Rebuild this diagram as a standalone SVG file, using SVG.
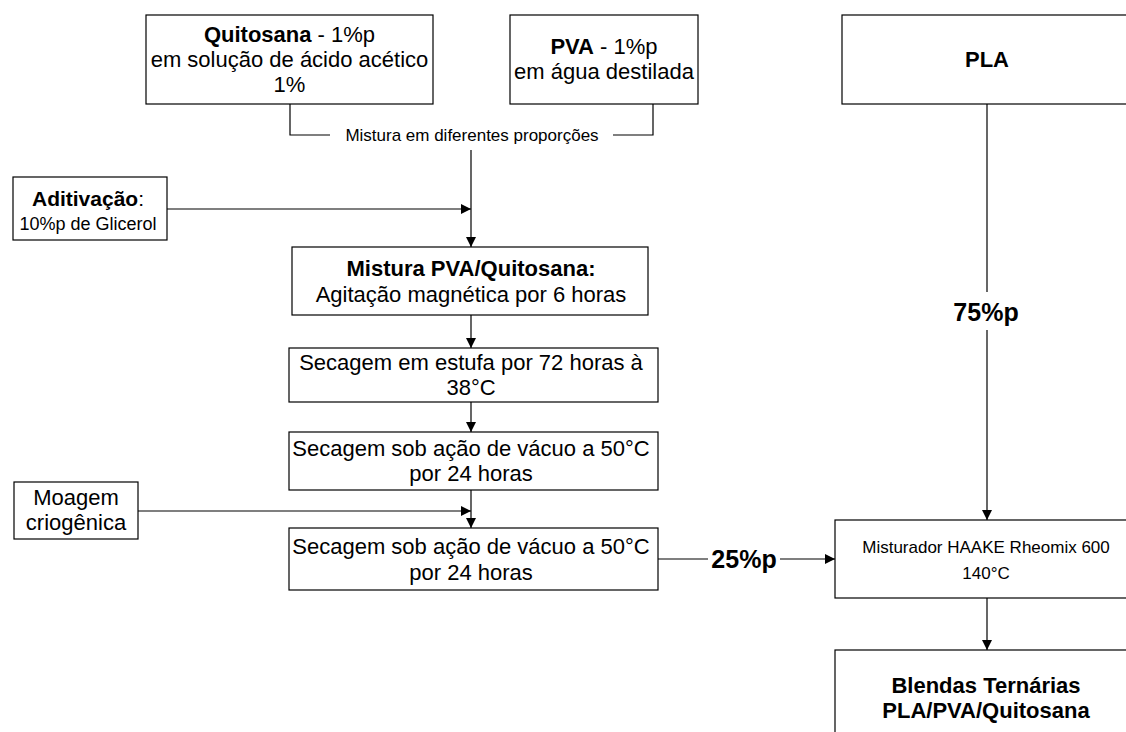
<svg xmlns="http://www.w3.org/2000/svg" width="1126" height="732" viewBox="0 0 1126 732">
<style>
.box{fill:#fff;stroke:#000;stroke-width:1.2}
.t{font-family:"Liberation Sans",Arial,sans-serif;font-size:22px;fill:#000;text-anchor:middle}
.s{font-size:17px}
.m{font-size:18px}
.b{font-weight:bold}
.big{font-size:25px;font-weight:bold}
.ln{fill:none;stroke:#000;stroke-width:1.2}
</style>
<defs>
<marker id="ah" viewBox="0 0 10 10" refX="10" refY="5" markerWidth="10" markerHeight="10" markerUnits="userSpaceOnUse" orient="auto">
<path d="M0,0 L10,5 L0,10 Z" fill="#000"/>
</marker>
</defs>
<rect width="1126" height="732" fill="#fff"/>
<g id="connectors">
<polyline class="ln" points="290,104 290,135 330,135"/>
<polyline class="ln" points="613,135 653,135 653,104"/>
<line class="ln" x1="471" y1="150" x2="471" y2="247" marker-end="url(#ah)"/>
<line class="ln" x1="166" y1="209" x2="471" y2="209" marker-end="url(#ah)"/>
<line class="ln" x1="471" y1="315" x2="471" y2="348" marker-end="url(#ah)"/>
<line class="ln" x1="471" y1="402" x2="471" y2="432" marker-end="url(#ah)"/>
<line class="ln" x1="471" y1="490" x2="471" y2="528" marker-end="url(#ah)"/>
<line class="ln" x1="138" y1="511" x2="471" y2="511" marker-end="url(#ah)"/>
<line class="ln" x1="658" y1="559" x2="708" y2="559"/>
<line class="ln" x1="780" y1="559" x2="835" y2="559" marker-end="url(#ah)"/>
<line class="ln" x1="987" y1="104" x2="987" y2="292"/>
<line class="ln" x1="987" y1="330" x2="987" y2="520" marker-end="url(#ah)"/>
<line class="ln" x1="987" y1="598" x2="987" y2="650" marker-end="url(#ah)"/>
<text class="t s" x="472" y="141">Mistura em diferentes proporções</text>
<text class="t big" x="744" y="568">25%p</text>
<text class="t big" x="986" y="321">75%p</text>
</g>
<g id="quitosana">
<rect class="box" x="146" y="15" width="287" height="89"/>
<text class="t" x="289.5" y="42"><tspan class="b">Quitosana</tspan> - 1%p</text>
<text class="t" x="289.5" y="67">em solução de ácido acético</text>
<text class="t" x="289.5" y="92">1%</text>
</g>
<g id="pva">
<rect class="box" x="510" y="15" width="188" height="89"/>
<text class="t" x="604" y="54"><tspan class="b">PVA</tspan> - 1%p</text>
<text class="t" x="604" y="79">em água destilada</text>
</g>
<g id="pla">
<rect class="box" x="842" y="15" width="300" height="89"/>
<text class="t b" x="987" y="67">PLA</text>
</g>
<g id="aditivacao">
<rect class="box" x="13" y="177" width="154" height="63"/>
<text class="t" x="88" y="206" style="font-size:21px"><tspan class="b">Aditivação</tspan>:</text>
<text class="t m" x="88" y="230">10%p de Glicerol</text>
</g>
<g id="mistura">
<rect class="box" x="292" y="247" width="356" height="68"/>
<text class="t b" x="471" y="276">Mistura PVA/Quitosana:</text>
<text class="t" x="471" y="302">Agitação magnética por 6 horas</text>
</g>
<g id="secagem-estufa">
<rect class="box" x="289" y="348" width="369" height="54"/>
<text class="t" x="471" y="370">Secagem em estufa por 72 horas à</text>
<text class="t" x="471" y="395">38°C</text>
</g>
<g id="secagem-vacuo-1">
<rect class="box" x="289" y="432" width="369" height="58"/>
<text class="t" x="471" y="456">Secagem sob ação de vácuo a 50°C</text>
<text class="t" x="471" y="481">por 24 horas</text>
</g>
<g id="moagem">
<rect class="box" x="14" y="482" width="124" height="57"/>
<text class="t" x="76" y="505">Moagem</text>
<text class="t" x="76" y="530">criogênica</text>
</g>
<g id="secagem-vacuo-2">
<rect class="box" x="289" y="528" width="369" height="62"/>
<text class="t" x="471" y="554">Secagem sob ação de vácuo a 50°C</text>
<text class="t" x="471" y="580">por 24 horas</text>
</g>
<g id="misturador">
<rect class="box" x="835" y="520" width="304" height="78"/>
<text class="t s" x="986" y="553">Misturador HAAKE Rheomix 600</text>
<text class="t s" x="986" y="579">140°C</text>
</g>
<g id="blendas">
<rect class="box" x="835" y="650" width="304" height="100"/>
<text class="t b" x="986" y="693">Blendas Ternárias</text>
<text class="t b" x="986" y="718">PLA/PVA/Quitosana</text>
</g>
</svg>
